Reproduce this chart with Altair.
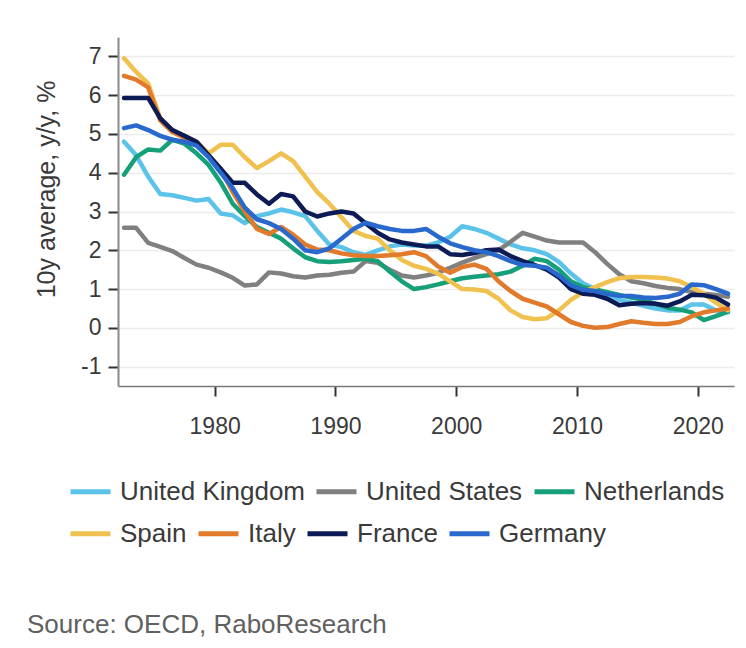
import altair as alt
import pandas as pd

# ---------------- data ----------------
years = list(range(1972, 2023))

united_kingdom = [4.8, 4.45, 3.9, 3.45, 3.42, 3.35, 3.28, 3.32, 2.95, 2.9,
                  2.7, 2.88, 2.95, 3.05, 2.98, 2.88, 2.5, 2.15, 2.08, 1.95,
                  1.88, 2.0, 2.1, 2.15, 2.12, 2.12, 2.2, 2.35, 2.62, 2.55,
                  2.45, 2.3, 2.15, 2.05, 2.0, 1.9, 1.7, 1.4, 1.15, 1.0,
                  0.85, 0.72, 0.65, 0.57, 0.5, 0.45, 0.45, 0.6, 0.6, 0.45,
                  0.4]
united_states = [2.58, 2.58, 2.19, 2.09, 1.98, 1.8, 1.63, 1.55, 1.43, 1.29,
                 1.09, 1.12, 1.43, 1.4, 1.33, 1.3, 1.35, 1.37, 1.42, 1.45,
                 1.72, 1.68, 1.5, 1.35, 1.3, 1.35, 1.42, 1.55, 1.68, 1.8,
                 1.9, 2.0, 2.22, 2.45, 2.35, 2.25, 2.2, 2.2, 2.2, 1.95,
                 1.65, 1.38, 1.2, 1.15, 1.08, 1.03, 1.0, 0.92, 0.88, 0.85,
                 0.8]
netherlands = [3.95, 4.4, 4.6, 4.57, 4.85, 4.75, 4.5, 4.2, 3.75, 3.2,
               2.88, 2.6, 2.45, 2.3, 2.05, 1.82, 1.72, 1.7, 1.72, 1.75,
               1.78, 1.72, 1.45, 1.2, 1.0, 1.05, 1.12, 1.2, 1.28, 1.32,
               1.35, 1.38, 1.45, 1.6, 1.78, 1.72, 1.5, 1.2, 1.05, 0.99,
               0.92, 0.85, 0.78, 0.72, 0.62, 0.52, 0.47, 0.4, 0.2, 0.3,
               0.42]
spain = [6.95, 6.6, 6.3, 5.4, 5.1, 4.95, 4.8, 4.5, 4.72, 4.72,
         4.4, 4.12, 4.3, 4.5, 4.3, 3.9, 3.5, 3.2, 2.85, 2.5,
         2.37, 2.3, 2.0, 1.75, 1.6, 1.52, 1.4, 1.2, 1.0, 0.99,
         0.95, 0.75, 0.45, 0.28, 0.22, 0.25, 0.45, 0.72, 0.92, 1.05,
         1.18, 1.28, 1.31, 1.31, 1.3, 1.27, 1.2, 1.05, 0.88, 0.65,
         0.45]
italy = [6.5, 6.4, 6.2, 5.35, 5.05, 4.9, 4.75, 4.45, 4.1, 3.5,
         3.0, 2.55, 2.42, 2.6, 2.4, 2.15, 2.02, 2.0, 1.92, 1.87,
         1.85, 1.85, 1.87, 1.9, 1.95, 1.85, 1.58, 1.42, 1.57, 1.63,
         1.52, 1.2, 0.95, 0.75, 0.65, 0.55, 0.35, 0.15, 0.05, 0.0,
         0.02, 0.1, 0.17, 0.13, 0.1, 0.1, 0.15, 0.3, 0.4, 0.45,
         0.5]
france = [5.93, 5.93, 5.93, 5.4, 5.1, 4.95, 4.8, 4.45, 4.1, 3.74,
          3.74, 3.44, 3.2, 3.45, 3.39, 3.0, 2.87, 2.95, 3.0, 2.95,
          2.7, 2.45, 2.28, 2.2, 2.15, 2.1, 2.1, 1.9, 1.88, 1.93,
          2.0, 2.02, 1.85, 1.72, 1.62, 1.5, 1.3, 1.0, 0.88, 0.85,
          0.75, 0.58, 0.62, 0.64, 0.62, 0.57, 0.68, 0.85, 0.84, 0.78,
          0.6]
germany = [5.15, 5.22, 5.1, 4.95, 4.85, 4.8, 4.7, 4.4, 4.0, 3.6,
           3.1, 2.8, 2.7, 2.55, 2.3, 2.0, 1.95, 2.05, 2.3, 2.55,
           2.71, 2.62, 2.55, 2.5, 2.5, 2.55, 2.35, 2.18, 2.08, 2.0,
           1.95, 1.85, 1.72, 1.62, 1.6, 1.55, 1.35, 1.1, 0.98, 0.95,
           0.87, 0.83, 0.82, 0.78, 0.77, 0.8, 0.88, 1.12, 1.1, 1.0,
           0.88]

row1_names = ["United Kingdom", "United States", "Netherlands"]
row1_colors = ["#5bc3ea", "#808080", "#16a079"]
row2_names = ["Spain", "Italy", "France", "Germany"]
row2_colors = ["#f0c14f", "#e27a2b", "#0c1a55", "#2968cc"]

x_ticks = [1980, 1990, 2000, 2010, 2020]
y_ticks = [-1, 0, 1, 2, 3, 4, 5, 6, 7]

series = {
    "United Kingdom": united_kingdom,
    "United States": united_states,
    "Netherlands": netherlands,
    "Spain": spain,
    "Italy": italy,
    "France": france,
    "Germany": germany,
}

rows = []
for name, vals in series.items():
    for yr, v in zip(years, vals):
        rows.append({"country": name, "year": yr, "value": v})
df = pd.DataFrame(rows)

FONT = "Liberation Sans"
TXT = "#3a3a3a"

x_enc = alt.X(
    "t:Q",
    scale=alt.Scale(domain=[1972, 2023], nice=False, zero=False),
    axis=alt.Axis(
        values=x_ticks, format="d", title=None, grid=False,
        domainColor="#7a7a7a", domainWidth=1.5,
        tickColor="#333333", tickWidth=2, tickSize=10,
        labelFont=FONT, labelFontSize=23, labelColor=TXT,
        labelBaseline="middle", labelPadding=30,
    ),
)
y_enc = alt.Y(
    "value:Q",
    scale=alt.Scale(domain=[-1.5, 7.5], nice=False, zero=False),
    axis=alt.Axis(
        values=y_ticks, labelExpr="'' + datum.value", title="10y average, y/y, %",
        grid=True, gridColor="#ececec", gridWidth=1.5,
        domainColor="#8a8a8a", domainWidth=2,
        tickColor="#333333", tickWidth=2, tickSize=10,
        labelFont=FONT, labelFontSize=23, labelColor=TXT, labelPadding=7,
        titleFont=FONT, titleFontSize=25, titleFontWeight="normal",
        titleColor=TXT, titleX=-64, titleY=152, titleAngle=270,
        titleAlign="center", titleBaseline="alphabetic",
    ),
)


def make_layer(names, colors, legend_y):
    return (
        alt.Chart(df)
        .transform_filter(alt.FieldOneOfPredicate(field="country", oneOf=names))
        .transform_calculate(t="datum.year + 0.5")
        .mark_line(strokeWidth=4.5, strokeCap="round", strokeJoin="round")
        .encode(
            x=x_enc,
            y=y_enc,
            color=alt.Color(
                "country:N",
                scale=alt.Scale(domain=names, range=colors),
                legend=alt.Legend(
                    title=None, orient="none", legendX=-50, legendY=legend_y,
                    direction="horizontal", columns=len(names),
                    symbolType="stroke", symbolStrokeWidth=5, symbolSize=1600,
                    labelFont=FONT, labelFontSize=26, labelColor=TXT,
                    labelLimit=500, labelOffset=7, columnPadding=1, padding=0,
                ),
            ),
        )
    )


chart = (
    alt.layer(
        make_layer(row1_names, row1_colors, 432),
        make_layer(row2_names, row2_colors, 474),
    )
    .resolve_scale(color="independent")
    .properties(
        width=616,
        height=349,
        autosize=alt.AutoSizeParams(type="none"),
        padding={"left": 110, "top": 29, "right": 4, "bottom": 254},
        background="white",
        title=alt.TitleParams(
            "Source: OECD, RaboResearch", orient="bottom", anchor="start",
            frame="group", offset=65, dx=-91, font=FONT, fontSize=26,
            fontWeight="normal", color="#606060",
        ),
    )
    .configure_view(stroke=None)
)

chart.save("out.html", embed_options={"renderer": "svg", "actions": False})
